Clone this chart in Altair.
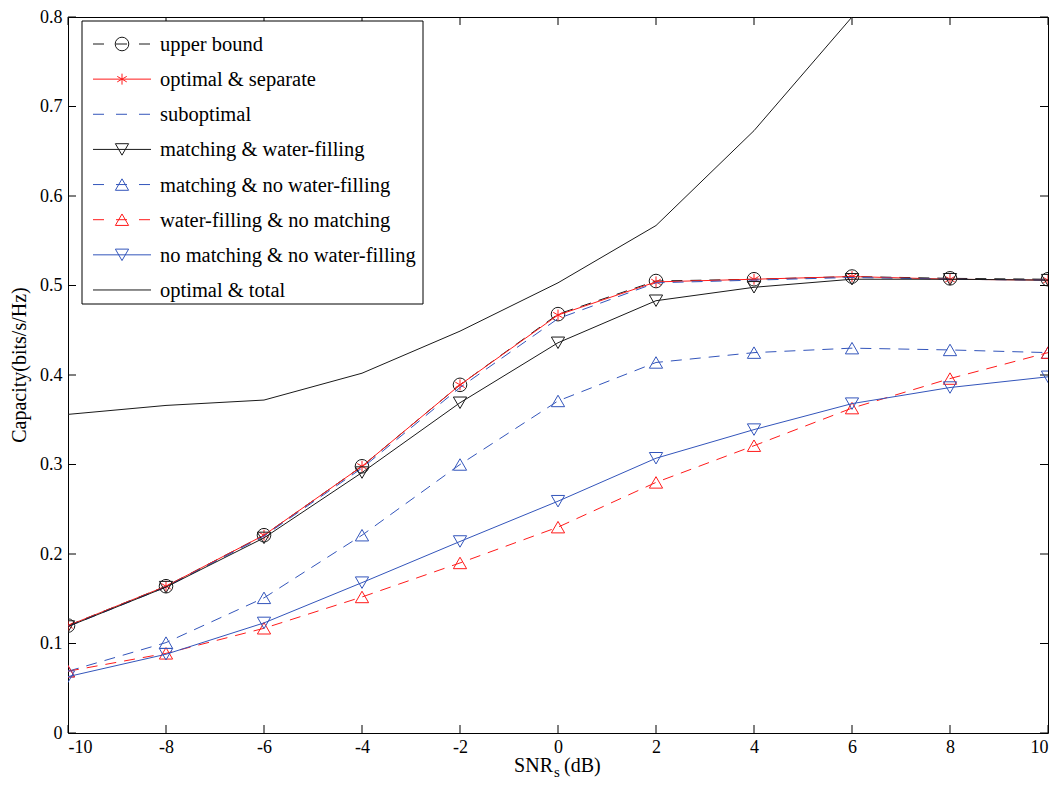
import altair as alt
import pandas as pd

FONT = "Liberation Serif"

# ---------------- data ----------------
snr = [-10, -8, -6, -4, -2, 0, 2, 4, 6, 8, 10]
upper_bound = [0.120, 0.164, 0.221, 0.298, 0.389, 0.468, 0.505, 0.507, 0.510, 0.508, 0.507]
optimal_separate = [0.120, 0.164, 0.221, 0.298, 0.389, 0.467, 0.504, 0.507, 0.510, 0.507, 0.506]
suboptimal = [0.119, 0.163, 0.220, 0.296, 0.386, 0.463, 0.503, 0.506, 0.509, 0.507, 0.506]
matching_wf = [0.119, 0.163, 0.218, 0.291, 0.369, 0.436, 0.483, 0.498, 0.507, 0.507, 0.506]
matching_nowf = [0.069, 0.101, 0.151, 0.221, 0.300, 0.371, 0.414, 0.425, 0.430, 0.428, 0.425]
wf_nomatching = [0.069, 0.089, 0.117, 0.152, 0.190, 0.230, 0.280, 0.321, 0.363, 0.396, 0.425]
nomatch_nowf = [0.063, 0.088, 0.123, 0.168, 0.214, 0.259, 0.307, 0.339, 0.368, 0.386, 0.398]
snr_total = [-10, -8, -6, -4, -2, 0, 2, 4, 6]
optimal_total = [0.356, 0.366, 0.372, 0.402, 0.449, 0.503, 0.567, 0.673, 0.800]

labels = [
    "upper bound",
    "optimal & separate",
    "suboptimal",
    "matching & water-filling",
    "matching & no water-filling",
    "water-filling & no matching",
    "no matching & no water-filling",
    "optimal & total",
]
x_ticks = [-10, -8, -6, -4, -2, 0, 2, 4, 6, 8, 10]
y_ticks = [0, 0.1, 0.2, 0.3, 0.4, 0.5, 0.6, 0.7, 0.8]

values = [upper_bound, optimal_separate, suboptimal, matching_wf,
          matching_nowf, wf_nomatching, nomatch_nowf, optimal_total]
xs = [snr] * 7 + [snr_total]

rows = []
for name, xv, yv in zip(labels, xs, values):
    for a, b in zip(xv, yv):
        rows.append({"snr": a, "cap": b, "series": name})
df = pd.DataFrame(rows)

# ---------------- styles ----------------
BLACK = "#1a1a1a"
RED = "#ff1a1a"
BLUE = "#3355bb"
CIRCLE = "circle"
ASTER = "M0,-1L0,1M-0.866,-0.5L0.866,0.5M-0.866,0.5L0.866,-0.5"
styles = [
    dict(color=BLACK, dash=[11, 8], shape=CIRCLE, size=185),
    dict(color=RED, dash=None, shape=ASTER, size=120),
    dict(color=BLUE, dash=[11, 8], shape=None, size=0),
    dict(color=BLACK, dash=None, shape="triangle-down", size=175),
    dict(color=BLUE, dash=[11, 8], shape="triangle-up", size=175),
    dict(color=RED, dash=[11, 8], shape="triangle-up", size=175),
    dict(color=BLUE, dash=None, shape="triangle-down", size=175),
    dict(color=BLACK, dash=None, shape=None, size=0),
]

W, H = 980, 716

X = alt.X(
    "snr:Q",
    scale=alt.Scale(domain=[-10, 10], nice=False, zero=False),
    axis=alt.Axis(values=x_ticks, ticks=False, domain=False, grid=False,
                  labelExpr="'' + datum.value", labelFont=FONT, labelFontSize=18,
                  labelColor="black", labelPadding=5, title=None),
)
Y = alt.Y(
    "cap:Q",
    scale=alt.Scale(domain=[0, 0.8], nice=False),
    axis=alt.Axis(values=y_ticks, ticks=False, domain=False, grid=False,
                  labelExpr="datum.value == 0 ? '0' : format(datum.value, '.1f')",
                  labelFont=FONT, labelFontSize=18, labelColor="black",
                  labelPadding=6, title=None),
)

layers = []

# inner tick marks (MATLAB style) on all four sides
df_xt = pd.DataFrame({"snr": x_ticks})
df_yt = pd.DataFrame({"cap": y_ticks})
TL = 8
layers.append(alt.Chart(df_xt).mark_rule(color="black", strokeWidth=1).encode(
    x=X, y=alt.value(H), y2=alt.value(H - TL)))
layers.append(alt.Chart(df_xt).mark_rule(color="black", strokeWidth=1).encode(
    x=X, y=alt.value(0), y2=alt.value(TL)))
layers.append(alt.Chart(df_yt).mark_rule(color="black", strokeWidth=1).encode(
    y=Y, x=alt.value(0), x2=alt.value(TL)))
layers.append(alt.Chart(df_yt).mark_rule(color="black", strokeWidth=1).encode(
    y=Y, x=alt.value(W), x2=alt.value(W - TL)))

# data series
for name, st in zip(labels, styles):
    lk = dict(color=st["color"], strokeWidth=1, clip=True)
    if st["dash"]:
        lk["strokeDash"] = st["dash"]
    layers.append(
        alt.Chart(df).transform_filter(alt.datum.series == name)
        .mark_line(**lk).encode(x=X, y=Y)
    )
    if st["shape"]:
        layers.append(
            alt.Chart(df).transform_filter(alt.datum.series == name)
            .mark_point(shape=st["shape"], size=st["size"], filled=False,
                        color=st["color"], strokeWidth=1, opacity=1, clip=True)
            .encode(x=X, y=Y)
        )

# legend (drawn manually so that line + marker combos match)
one = pd.DataFrame({"k": [0]})
layers.append(alt.Chart(one).mark_rect(fill="white", stroke="black", strokeWidth=1).encode(
    x=alt.value(14), x2=alt.value(355), y=alt.value(4), y2=alt.value(287)))
for i, (name, st) in enumerate(zip(labels, styles)):
    yy = 27 + i * 35.14
    rk = dict(color=st["color"], strokeWidth=1)
    if st["dash"]:
        rk["strokeDash"] = [11, 12]
    layers.append(alt.Chart(one).mark_rule(**rk).encode(
        x=alt.value(25), x2=alt.value(83), y=alt.value(yy)))
    if st["shape"]:
        layers.append(alt.Chart(one).mark_point(
            shape=st["shape"], size=st["size"], filled=False, color=st["color"],
            strokeWidth=1, opacity=1).encode(x=alt.value(54), y=alt.value(yy)))
    layers.append(alt.Chart(one).mark_text(
        align="left", baseline="middle", font=FONT, fontSize=20.5, color="black").encode(
        x=alt.value(92), y=alt.value(yy + 1), text=alt.value(name)))

# axis titles
layers.append(alt.Chart(one).mark_text(
    angle=270, align="center", baseline="middle", font=FONT, fontSize=20, color="black").encode(
    x=alt.value(-48), y=alt.value(348), text=alt.value("Capacity(bits/s/Hz)")))
layers.append(alt.Chart(one).mark_text(
    align="right", baseline="middle", font=FONT, fontSize=20, color="black").encode(
    x=alt.value(485), y=alt.value(749), text=alt.value("SNR")))
layers.append(alt.Chart(one).mark_text(
    align="left", baseline="middle", font=FONT, fontSize=15, color="black").encode(
    x=alt.value(486), y=alt.value(755), text=alt.value("s")))
layers.append(alt.Chart(one).mark_text(
    align="left", baseline="middle", font=FONT, fontSize=20, color="black").encode(
    x=alt.value(496), y=alt.value(749), text=alt.value("(dB)")))

chart = (
    alt.layer(*layers)
    .properties(
        width=W, height=H,
        padding={"left": 60, "top": 9, "right": 7, "bottom": 49},
        autosize=alt.AutoSizeParams(type="none"),
        background="white",
    )
    .configure_view(stroke="black", strokeWidth=1)
)

chart.save("out.html", embed_options={"renderer": "svg", "actions": False})
